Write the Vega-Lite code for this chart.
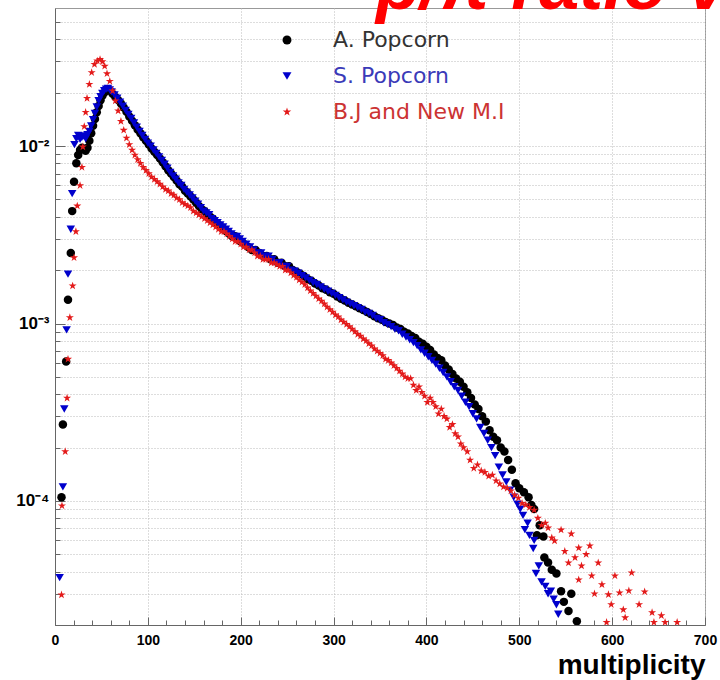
{
 "$schema": "https://vega.github.io/schema/vega-lite/v6.json",
 "width": 650,
 "height": 617,
 "autosize": "none",
 "padding": {"left": 55, "top": 8, "right": 15, "bottom": 55},
 "background": "white",
 "title": {"text": "p/π ratio v", "anchor": "start", "frame": "group", "orient": "top", "offset": -73, "dx": 321, "baseline": "alphabetic", "font": "Liberation Sans", "fontSize": 72, "fontStyle": "italic", "fontWeight": "bold", "color": "#ff0000"},
 "data": {"values": [
{"series":"A. Popcorn","mult":7,"val":0.000105},{"series":"A. Popcorn","mult":8.5,"val":0.00027},{"series":"A. Popcorn","mult":12,"val":0.00061},{"series":"A. Popcorn","mult":14,"val":0.00136},{"series":"A. Popcorn","mult":17,"val":0.0025},{"series":"A. Popcorn","mult":18.5,"val":0.0043},{"series":"A. Popcorn","mult":20.5,"val":0.0063},{"series":"A. Popcorn","mult":23,"val":0.008},{"series":"A. Popcorn","mult":25,"val":0.0089},{"series":"A. Popcorn","mult":27,"val":0.0095},{"series":"A. Popcorn","mult":29,"val":0.0098},{"series":"A. Popcorn","mult":31,"val":0.0096},{"series":"A. Popcorn","mult":33,"val":0.0094},{"series":"A. Popcorn","mult":35,"val":0.0098},{"series":"A. Popcorn","mult":37,"val":0.0107},{"series":"A. Popcorn","mult":39,"val":0.0118},{"series":"A. Popcorn","mult":41,"val":0.013},{"series":"A. Popcorn","mult":43,"val":0.0142},{"series":"A. Popcorn","mult":45,"val":0.0155},{"series":"A. Popcorn","mult":47,"val":0.0168},{"series":"A. Popcorn","mult":49,"val":0.0181},{"series":"A. Popcorn","mult":51,"val":0.0192},{"series":"A. Popcorn","mult":53,"val":0.02},{"series":"A. Popcorn","mult":55,"val":0.0206},{"series":"A. Popcorn","mult":57,"val":0.0209},{"series":"A. Popcorn","mult":59,"val":0.0205},{"series":"A. Popcorn","mult":62,"val":0.0197},{"series":"A. Popcorn","mult":65,"val":0.0189},{"series":"A. Popcorn","mult":68,"val":0.0182},{"series":"A. Popcorn","mult":71,"val":0.0174},{"series":"A. Popcorn","mult":74,"val":0.0165},{"series":"A. Popcorn","mult":77,"val":0.0156},{"series":"A. Popcorn","mult":80,"val":0.0147},{"series":"A. Popcorn","mult":83,"val":0.0139},{"series":"A. Popcorn","mult":86,"val":0.0131},{"series":"A. Popcorn","mult":89,"val":0.0124},{"series":"A. Popcorn","mult":92,"val":0.0118},{"series":"A. Popcorn","mult":95,"val":0.0112},{"series":"A. Popcorn","mult":98,"val":0.0107},{"series":"A. Popcorn","mult":101,"val":0.0102},{"series":"A. Popcorn","mult":104,"val":0.0097},{"series":"A. Popcorn","mult":107,"val":0.0093},{"series":"A. Popcorn","mult":110,"val":0.0089},{"series":"A. Popcorn","mult":113,"val":0.0085},{"series":"A. Popcorn","mult":116,"val":0.0081},{"series":"A. Popcorn","mult":119,"val":0.0077},{"series":"A. Popcorn","mult":122,"val":0.0073},{"series":"A. Popcorn","mult":125,"val":0.007},{"series":"A. Popcorn","mult":128,"val":0.0067},{"series":"A. Popcorn","mult":131,"val":0.0064},{"series":"A. Popcorn","mult":134,"val":0.0061},{"series":"A. Popcorn","mult":137,"val":0.0059},{"series":"A. Popcorn","mult":140,"val":0.0056},{"series":"A. Popcorn","mult":143,"val":0.0054},{"series":"A. Popcorn","mult":146,"val":0.0052},{"series":"A. Popcorn","mult":149,"val":0.005},{"series":"A. Popcorn","mult":152,"val":0.0048},{"series":"A. Popcorn","mult":155,"val":0.0046},{"series":"A. Popcorn","mult":158,"val":0.0044},{"series":"A. Popcorn","mult":161,"val":0.0043},{"series":"A. Popcorn","mult":164,"val":0.0041},{"series":"A. Popcorn","mult":167,"val":0.004},{"series":"A. Popcorn","mult":170,"val":0.0039},{"series":"A. Popcorn","mult":173,"val":0.0037},{"series":"A. Popcorn","mult":176,"val":0.0036},{"series":"A. Popcorn","mult":179,"val":0.0035},{"series":"A. Popcorn","mult":182,"val":0.0034},{"series":"A. Popcorn","mult":185,"val":0.0033},{"series":"A. Popcorn","mult":188,"val":0.0032},{"series":"A. Popcorn","mult":191,"val":0.0031},{"series":"A. Popcorn","mult":194,"val":0.0031},{"series":"A. Popcorn","mult":197,"val":0.003},{"series":"A. Popcorn","mult":200,"val":0.0029},{"series":"A. Popcorn","mult":204,"val":0.0028},{"series":"A. Popcorn","mult":208,"val":0.0027},{"series":"A. Popcorn","mult":212,"val":0.0026},{"series":"A. Popcorn","mult":216,"val":0.0026},{"series":"A. Popcorn","mult":220,"val":0.0025},{"series":"A. Popcorn","mult":224,"val":0.0024},{"series":"A. Popcorn","mult":228,"val":0.0024},{"series":"A. Popcorn","mult":232,"val":0.0023},{"series":"A. Popcorn","mult":236,"val":0.0023},{"series":"A. Popcorn","mult":240,"val":0.0022},{"series":"A. Popcorn","mult":244,"val":0.0022},{"series":"A. Popcorn","mult":248,"val":0.0021},{"series":"A. Popcorn","mult":252,"val":0.0021},{"series":"A. Popcorn","mult":256,"val":0.002},{"series":"A. Popcorn","mult":260,"val":0.00196},{"series":"A. Popcorn","mult":264,"val":0.00191},{"series":"A. Popcorn","mult":268,"val":0.00185},{"series":"A. Popcorn","mult":272,"val":0.00178},{"series":"A. Popcorn","mult":276,"val":0.00174},{"series":"A. Popcorn","mult":280,"val":0.00168},{"series":"A. Popcorn","mult":284,"val":0.00164},{"series":"A. Popcorn","mult":288,"val":0.00158},{"series":"A. Popcorn","mult":292,"val":0.00155},{"series":"A. Popcorn","mult":296,"val":0.0015},{"series":"A. Popcorn","mult":300,"val":0.00147},{"series":"A. Popcorn","mult":304,"val":0.00142},{"series":"A. Popcorn","mult":308,"val":0.00138},{"series":"A. Popcorn","mult":312,"val":0.00135},{"series":"A. Popcorn","mult":316,"val":0.00131},{"series":"A. Popcorn","mult":320,"val":0.00128},{"series":"A. Popcorn","mult":324,"val":0.00125},{"series":"A. Popcorn","mult":328,"val":0.00122},{"series":"A. Popcorn","mult":332,"val":0.00119},{"series":"A. Popcorn","mult":336,"val":0.00116},{"series":"A. Popcorn","mult":340,"val":0.00113},{"series":"A. Popcorn","mult":344,"val":0.0011},{"series":"A. Popcorn","mult":348,"val":0.00107},{"series":"A. Popcorn","mult":352,"val":0.00105},{"series":"A. Popcorn","mult":356,"val":0.00102},{"series":"A. Popcorn","mult":360,"val":0.001},{"series":"A. Popcorn","mult":364,"val":0.00098},{"series":"A. Popcorn","mult":368,"val":0.00095},{"series":"A. Popcorn","mult":372,"val":0.00093},{"series":"A. Popcorn","mult":376,"val":0.0009},{"series":"A. Popcorn","mult":380,"val":0.00088},{"series":"A. Popcorn","mult":384,"val":0.00085},{"series":"A. Popcorn","mult":388,"val":0.00083},{"series":"A. Popcorn","mult":392,"val":0.00079},{"series":"A. Popcorn","mult":396,"val":0.00077},{"series":"A. Popcorn","mult":400,"val":0.00074},{"series":"A. Popcorn","mult":404,"val":0.00071},{"series":"A. Popcorn","mult":408,"val":0.00067},{"series":"A. Popcorn","mult":412,"val":0.00064},{"series":"A. Popcorn","mult":416,"val":0.00062},{"series":"A. Popcorn","mult":420,"val":0.00058},{"series":"A. Popcorn","mult":424,"val":0.00055},{"series":"A. Popcorn","mult":428,"val":0.00052},{"series":"A. Popcorn","mult":432,"val":0.00049},{"series":"A. Popcorn","mult":436,"val":0.00047},{"series":"A. Popcorn","mult":440,"val":0.00044},{"series":"A. Popcorn","mult":444,"val":0.00041},{"series":"A. Popcorn","mult":448,"val":0.00038},{"series":"A. Popcorn","mult":452,"val":0.00035},{"series":"A. Popcorn","mult":456,"val":0.00033},{"series":"A. Popcorn","mult":460,"val":0.0003},{"series":"A. Popcorn","mult":464,"val":0.00028},{"series":"A. Popcorn","mult":468,"val":0.00025},{"series":"A. Popcorn","mult":472,"val":0.00023},{"series":"A. Popcorn","mult":476,"val":0.00022},{"series":"A. Popcorn","mult":480,"val":0.0002},{"series":"A. Popcorn","mult":484,"val":0.00019},{"series":"A. Popcorn","mult":488,"val":0.00017},{"series":"A. Popcorn","mult":492,"val":0.00015},{"series":"A. Popcorn","mult":496,"val":0.000126},{"series":"A. Popcorn","mult":500,"val":0.000118},{"series":"A. Popcorn","mult":505,"val":0.000112},{"series":"A. Popcorn","mult":510,"val":0.000105},{"series":"A. Popcorn","mult":513,"val":0.000095},{"series":"A. Popcorn","mult":516,"val":0.00009},{"series":"A. Popcorn","mult":519,"val":0.000064},{"series":"A. Popcorn","mult":522,"val":0.000073},{"series":"A. Popcorn","mult":526,"val":0.000063},{"series":"A. Popcorn","mult":527,"val":0.000048},{"series":"A. Popcorn","mult":531,"val":0.000045},{"series":"A. Popcorn","mult":535,"val":0.000041},{"series":"A. Popcorn","mult":540,"val":0.000039},{"series":"A. Popcorn","mult":545,"val":0.000031},{"series":"A. Popcorn","mult":548,"val":0.000027},{"series":"A. Popcorn","mult":553,"val":0.000024},{"series":"A. Popcorn","mult":556,"val":0.00003},{"series":"A. Popcorn","mult":562,"val":0.000021},
{"series":"S. Popcorn","mult":5,"val":0.000037},{"series":"S. Popcorn","mult":8.5,"val":0.00012},{"series":"S. Popcorn","mult":10,"val":0.00033},{"series":"S. Popcorn","mult":12.5,"val":0.00092},{"series":"S. Popcorn","mult":14,"val":0.0019},{"series":"S. Popcorn","mult":17,"val":0.0034},{"series":"S. Popcorn","mult":18.5,"val":0.0054},{"series":"S. Popcorn","mult":21,"val":0.0102},{"series":"S. Popcorn","mult":23,"val":0.011},{"series":"S. Popcorn","mult":25,"val":0.0115},{"series":"S. Popcorn","mult":27,"val":0.0109},{"series":"S. Popcorn","mult":29,"val":0.0112},{"series":"S. Popcorn","mult":31,"val":0.0114},{"series":"S. Popcorn","mult":33,"val":0.011},{"series":"S. Popcorn","mult":35,"val":0.0116},{"series":"S. Popcorn","mult":37,"val":0.0121},{"series":"S. Popcorn","mult":39,"val":0.013},{"series":"S. Popcorn","mult":41,"val":0.0141},{"series":"S. Popcorn","mult":43,"val":0.0153},{"series":"S. Popcorn","mult":45,"val":0.0166},{"series":"S. Popcorn","mult":47,"val":0.018},{"series":"S. Popcorn","mult":49,"val":0.019},{"series":"S. Popcorn","mult":51,"val":0.0198},{"series":"S. Popcorn","mult":53,"val":0.0205},{"series":"S. Popcorn","mult":55,"val":0.0209},{"series":"S. Popcorn","mult":57,"val":0.0211},{"series":"S. Popcorn","mult":59,"val":0.0207},{"series":"S. Popcorn","mult":61,"val":0.0202},{"series":"S. Popcorn","mult":64,"val":0.0194},{"series":"S. Popcorn","mult":67,"val":0.0186},{"series":"S. Popcorn","mult":70,"val":0.0177},{"series":"S. Popcorn","mult":73,"val":0.0168},{"series":"S. Popcorn","mult":76,"val":0.0159},{"series":"S. Popcorn","mult":79,"val":0.0151},{"series":"S. Popcorn","mult":82,"val":0.0143},{"series":"S. Popcorn","mult":85,"val":0.0135},{"series":"S. Popcorn","mult":88,"val":0.0128},{"series":"S. Popcorn","mult":91,"val":0.0121},{"series":"S. Popcorn","mult":94,"val":0.0115},{"series":"S. Popcorn","mult":97,"val":0.0109},{"series":"S. Popcorn","mult":100,"val":0.0104},{"series":"S. Popcorn","mult":103,"val":0.01},{"series":"S. Popcorn","mult":106,"val":0.0095},{"series":"S. Popcorn","mult":109,"val":0.0091},{"series":"S. Popcorn","mult":112,"val":0.0087},{"series":"S. Popcorn","mult":115,"val":0.0083},{"series":"S. Popcorn","mult":118,"val":0.0079},{"series":"S. Popcorn","mult":121,"val":0.0075},{"series":"S. Popcorn","mult":124,"val":0.0071},{"series":"S. Popcorn","mult":127,"val":0.0068},{"series":"S. Popcorn","mult":130,"val":0.0065},{"series":"S. Popcorn","mult":133,"val":0.0062},{"series":"S. Popcorn","mult":136,"val":0.006},{"series":"S. Popcorn","mult":139,"val":0.0057},{"series":"S. Popcorn","mult":142,"val":0.0055},{"series":"S. Popcorn","mult":145,"val":0.0053},{"series":"S. Popcorn","mult":148,"val":0.0051},{"series":"S. Popcorn","mult":151,"val":0.0049},{"series":"S. Popcorn","mult":154,"val":0.0047},{"series":"S. Popcorn","mult":157,"val":0.0045},{"series":"S. Popcorn","mult":160,"val":0.0043},{"series":"S. Popcorn","mult":163,"val":0.0042},{"series":"S. Popcorn","mult":166,"val":0.0041},{"series":"S. Popcorn","mult":169,"val":0.0039},{"series":"S. Popcorn","mult":172,"val":0.0038},{"series":"S. Popcorn","mult":175,"val":0.0037},{"series":"S. Popcorn","mult":178,"val":0.0036},{"series":"S. Popcorn","mult":181,"val":0.0035},{"series":"S. Popcorn","mult":184,"val":0.0034},{"series":"S. Popcorn","mult":187,"val":0.0033},{"series":"S. Popcorn","mult":190,"val":0.0032},{"series":"S. Popcorn","mult":193,"val":0.0031},{"series":"S. Popcorn","mult":196,"val":0.0031},{"series":"S. Popcorn","mult":199,"val":0.003},{"series":"S. Popcorn","mult":202,"val":0.0029},{"series":"S. Popcorn","mult":206,"val":0.0028},{"series":"S. Popcorn","mult":210,"val":0.0027},{"series":"S. Popcorn","mult":214,"val":0.0026},{"series":"S. Popcorn","mult":218,"val":0.0025},{"series":"S. Popcorn","mult":222,"val":0.0025},{"series":"S. Popcorn","mult":226,"val":0.0024},{"series":"S. Popcorn","mult":230,"val":0.0024},{"series":"S. Popcorn","mult":234,"val":0.0023},{"series":"S. Popcorn","mult":238,"val":0.0022},{"series":"S. Popcorn","mult":242,"val":0.0022},{"series":"S. Popcorn","mult":246,"val":0.0021},{"series":"S. Popcorn","mult":250,"val":0.0021},{"series":"S. Popcorn","mult":254,"val":0.002},{"series":"S. Popcorn","mult":258,"val":0.00197},{"series":"S. Popcorn","mult":262,"val":0.00192},{"series":"S. Popcorn","mult":266,"val":0.00186},{"series":"S. Popcorn","mult":270,"val":0.00181},{"series":"S. Popcorn","mult":274,"val":0.00175},{"series":"S. Popcorn","mult":278,"val":0.0017},{"series":"S. Popcorn","mult":282,"val":0.00166},{"series":"S. Popcorn","mult":286,"val":0.00161},{"series":"S. Popcorn","mult":290,"val":0.00156},{"series":"S. Popcorn","mult":294,"val":0.00152},{"series":"S. Popcorn","mult":298,"val":0.00148},{"series":"S. Popcorn","mult":302,"val":0.00144},{"series":"S. Popcorn","mult":306,"val":0.0014},{"series":"S. Popcorn","mult":310,"val":0.00136},{"series":"S. Popcorn","mult":314,"val":0.00132},{"series":"S. Popcorn","mult":318,"val":0.00129},{"series":"S. Popcorn","mult":322,"val":0.00126},{"series":"S. Popcorn","mult":326,"val":0.00123},{"series":"S. Popcorn","mult":330,"val":0.0012},{"series":"S. Popcorn","mult":334,"val":0.00116},{"series":"S. Popcorn","mult":338,"val":0.00114},{"series":"S. Popcorn","mult":342,"val":0.00111},{"series":"S. Popcorn","mult":346,"val":0.00107},{"series":"S. Popcorn","mult":350,"val":0.00105},{"series":"S. Popcorn","mult":354,"val":0.00101},{"series":"S. Popcorn","mult":358,"val":0.00099},{"series":"S. Popcorn","mult":362,"val":0.00096},{"series":"S. Popcorn","mult":366,"val":0.00093},{"series":"S. Popcorn","mult":370,"val":0.00091},{"series":"S. Popcorn","mult":374,"val":0.00087},{"series":"S. Popcorn","mult":378,"val":0.00084},{"series":"S. Popcorn","mult":382,"val":0.00081},{"series":"S. Popcorn","mult":386,"val":0.00078},{"series":"S. Popcorn","mult":390,"val":0.00075},{"series":"S. Popcorn","mult":394,"val":0.00071},{"series":"S. Popcorn","mult":398,"val":0.00068},{"series":"S. Popcorn","mult":402,"val":0.00065},{"series":"S. Popcorn","mult":406,"val":0.00062},{"series":"S. Popcorn","mult":410,"val":0.00059},{"series":"S. Popcorn","mult":414,"val":0.00056},{"series":"S. Popcorn","mult":418,"val":0.00053},{"series":"S. Popcorn","mult":422,"val":0.0005},{"series":"S. Popcorn","mult":426,"val":0.00047},{"series":"S. Popcorn","mult":430,"val":0.00044},{"series":"S. Popcorn","mult":434,"val":0.00042},{"series":"S. Popcorn","mult":438,"val":0.00039},{"series":"S. Popcorn","mult":442,"val":0.00036},{"series":"S. Popcorn","mult":446,"val":0.00034},{"series":"S. Popcorn","mult":450,"val":0.00031},{"series":"S. Popcorn","mult":454,"val":0.00029},{"series":"S. Popcorn","mult":458,"val":0.00026},{"series":"S. Popcorn","mult":462,"val":0.00024},{"series":"S. Popcorn","mult":466,"val":0.00022},{"series":"S. Popcorn","mult":470,"val":0.0002},{"series":"S. Popcorn","mult":474,"val":0.00018},{"series":"S. Popcorn","mult":478,"val":0.000155},{"series":"S. Popcorn","mult":482,"val":0.00014},{"series":"S. Popcorn","mult":486,"val":0.000128},{"series":"S. Popcorn","mult":490,"val":0.000115},{"series":"S. Popcorn","mult":494,"val":0.000105},{"series":"S. Popcorn","mult":498,"val":0.000096},{"series":"S. Popcorn","mult":501,"val":0.00009},{"series":"S. Popcorn","mult":504,"val":0.000083},{"series":"S. Popcorn","mult":506,"val":0.000069},{"series":"S. Popcorn","mult":509,"val":0.000075},{"series":"S. Popcorn","mult":511,"val":0.000064},{"series":"S. Popcorn","mult":515,"val":0.000054},{"series":"S. Popcorn","mult":516,"val":0.00006},{"series":"S. Popcorn","mult":518,"val":0.000039},{"series":"S. Popcorn","mult":521,"val":0.000043},{"series":"S. Popcorn","mult":524,"val":0.000035},{"series":"S. Popcorn","mult":528,"val":0.000033},{"series":"S. Popcorn","mult":531,"val":0.00003},{"series":"S. Popcorn","mult":534,"val":0.000031},{"series":"S. Popcorn","mult":537,"val":0.000028},{"series":"S. Popcorn","mult":540,"val":0.000026},{"series":"S. Popcorn","mult":542,"val":0.000023},
{"series":"B.J and New M.I","mult":7,"val":0.0000296},{"series":"B.J and New M.I","mult":7.5,"val":0.000094},{"series":"B.J and New M.I","mult":11,"val":0.00019},{"series":"B.J and New M.I","mult":13,"val":0.00038},{"series":"B.J and New M.I","mult":14,"val":0.00063},{"series":"B.J and New M.I","mult":16,"val":0.00108},{"series":"B.J and New M.I","mult":19,"val":0.00163},{"series":"B.J and New M.I","mult":20.5,"val":0.00235},{"series":"B.J and New M.I","mult":22.5,"val":0.0033},{"series":"B.J and New M.I","mult":24,"val":0.0046},{"series":"B.J and New M.I","mult":27,"val":0.006},{"series":"B.J and New M.I","mult":29,"val":0.0076},{"series":"B.J and New M.I","mult":30,"val":0.0099},{"series":"B.J and New M.I","mult":31.5,"val":0.0129},{"series":"B.J and New M.I","mult":33,"val":0.0155},{"series":"B.J and New M.I","mult":34.5,"val":0.0186},{"series":"B.J and New M.I","mult":37,"val":0.0223},{"series":"B.J and New M.I","mult":39.5,"val":0.026},{"series":"B.J and New M.I","mult":42.5,"val":0.0289},{"series":"B.J and New M.I","mult":45.5,"val":0.0302},{"series":"B.J and New M.I","mult":48.5,"val":0.0308},{"series":"B.J and New M.I","mult":51,"val":0.0299},{"series":"B.J and New M.I","mult":53.5,"val":0.0282},{"series":"B.J and New M.I","mult":56,"val":0.0256},{"series":"B.J and New M.I","mult":59,"val":0.0232},{"series":"B.J and New M.I","mult":62,"val":0.0205},{"series":"B.J and New M.I","mult":65,"val":0.018},{"series":"B.J and New M.I","mult":68,"val":0.0158},{"series":"B.J and New M.I","mult":71,"val":0.0138},{"series":"B.J and New M.I","mult":74,"val":0.0123},{"series":"B.J and New M.I","mult":77,"val":0.0111},{"series":"B.J and New M.I","mult":80,"val":0.0102},{"series":"B.J and New M.I","mult":83,"val":0.0095},{"series":"B.J and New M.I","mult":86,"val":0.0089},{"series":"B.J and New M.I","mult":89,"val":0.0084},{"series":"B.J and New M.I","mult":92,"val":0.008},{"series":"B.J and New M.I","mult":95,"val":0.0076},{"series":"B.J and New M.I","mult":98,"val":0.0073},{"series":"B.J and New M.I","mult":101,"val":0.007},{"series":"B.J and New M.I","mult":104,"val":0.0067},{"series":"B.J and New M.I","mult":107,"val":0.0065},{"series":"B.J and New M.I","mult":110,"val":0.0063},{"series":"B.J and New M.I","mult":113,"val":0.0061},{"series":"B.J and New M.I","mult":116,"val":0.0059},{"series":"B.J and New M.I","mult":119,"val":0.0057},{"series":"B.J and New M.I","mult":122,"val":0.0056},{"series":"B.J and New M.I","mult":125,"val":0.0054},{"series":"B.J and New M.I","mult":128,"val":0.0053},{"series":"B.J and New M.I","mult":131,"val":0.0051},{"series":"B.J and New M.I","mult":134,"val":0.005},{"series":"B.J and New M.I","mult":137,"val":0.0048},{"series":"B.J and New M.I","mult":140,"val":0.0047},{"series":"B.J and New M.I","mult":143,"val":0.0046},{"series":"B.J and New M.I","mult":146,"val":0.0045},{"series":"B.J and New M.I","mult":149,"val":0.0043},{"series":"B.J and New M.I","mult":152,"val":0.0042},{"series":"B.J and New M.I","mult":155,"val":0.0041},{"series":"B.J and New M.I","mult":158,"val":0.004},{"series":"B.J and New M.I","mult":161,"val":0.0039},{"series":"B.J and New M.I","mult":164,"val":0.0038},{"series":"B.J and New M.I","mult":167,"val":0.0037},{"series":"B.J and New M.I","mult":170,"val":0.0036},{"series":"B.J and New M.I","mult":173,"val":0.0035},{"series":"B.J and New M.I","mult":176,"val":0.0034},{"series":"B.J and New M.I","mult":179,"val":0.0033},{"series":"B.J and New M.I","mult":182,"val":0.0033},{"series":"B.J and New M.I","mult":185,"val":0.0032},{"series":"B.J and New M.I","mult":188,"val":0.0031},{"series":"B.J and New M.I","mult":191,"val":0.003},{"series":"B.J and New M.I","mult":194,"val":0.0029},{"series":"B.J and New M.I","mult":197,"val":0.0029},{"series":"B.J and New M.I","mult":200,"val":0.0028},{"series":"B.J and New M.I","mult":203,"val":0.0027},{"series":"B.J and New M.I","mult":206,"val":0.0027},{"series":"B.J and New M.I","mult":209,"val":0.0026},{"series":"B.J and New M.I","mult":212,"val":0.0026},{"series":"B.J and New M.I","mult":215,"val":0.0025},{"series":"B.J and New M.I","mult":218,"val":0.0024},{"series":"B.J and New M.I","mult":221,"val":0.0024},{"series":"B.J and New M.I","mult":224,"val":0.0023},{"series":"B.J and New M.I","mult":227,"val":0.0023},{"series":"B.J and New M.I","mult":230,"val":0.0023},{"series":"B.J and New M.I","mult":233,"val":0.0022},{"series":"B.J and New M.I","mult":236,"val":0.0022},{"series":"B.J and New M.I","mult":239,"val":0.00215},{"series":"B.J and New M.I","mult":242,"val":0.0021},{"series":"B.J and New M.I","mult":245,"val":0.0021},{"series":"B.J and New M.I","mult":248,"val":0.002},{"series":"B.J and New M.I","mult":251,"val":0.002},{"series":"B.J and New M.I","mult":254,"val":0.00193},{"series":"B.J and New M.I","mult":257,"val":0.00187},{"series":"B.J and New M.I","mult":260,"val":0.00182},{"series":"B.J and New M.I","mult":263,"val":0.00176},{"series":"B.J and New M.I","mult":266,"val":0.00171},{"series":"B.J and New M.I","mult":269,"val":0.00166},{"series":"B.J and New M.I","mult":272,"val":0.00159},{"series":"B.J and New M.I","mult":275,"val":0.00153},{"series":"B.J and New M.I","mult":278,"val":0.00148},{"series":"B.J and New M.I","mult":281,"val":0.00143},{"series":"B.J and New M.I","mult":284,"val":0.00138},{"series":"B.J and New M.I","mult":287,"val":0.00134},{"series":"B.J and New M.I","mult":290,"val":0.00129},{"series":"B.J and New M.I","mult":293,"val":0.00124},{"series":"B.J and New M.I","mult":296,"val":0.0012},{"series":"B.J and New M.I","mult":299,"val":0.00116},{"series":"B.J and New M.I","mult":302,"val":0.00112},{"series":"B.J and New M.I","mult":305,"val":0.00109},{"series":"B.J and New M.I","mult":308,"val":0.00105},{"series":"B.J and New M.I","mult":311,"val":0.00102},{"series":"B.J and New M.I","mult":314,"val":0.00099},{"series":"B.J and New M.I","mult":317,"val":0.00096},{"series":"B.J and New M.I","mult":320,"val":0.00093},{"series":"B.J and New M.I","mult":323,"val":0.0009},{"series":"B.J and New M.I","mult":326,"val":0.00087},{"series":"B.J and New M.I","mult":329,"val":0.00085},{"series":"B.J and New M.I","mult":332,"val":0.00082},{"series":"B.J and New M.I","mult":335,"val":0.0008},{"series":"B.J and New M.I","mult":338,"val":0.00077},{"series":"B.J and New M.I","mult":341,"val":0.00075},{"series":"B.J and New M.I","mult":344,"val":0.00072},{"series":"B.J and New M.I","mult":347,"val":0.0007},{"series":"B.J and New M.I","mult":350,"val":0.00068},{"series":"B.J and New M.I","mult":353,"val":0.00066},{"series":"B.J and New M.I","mult":356,"val":0.00063},{"series":"B.J and New M.I","mult":359,"val":0.00062},{"series":"B.J and New M.I","mult":362,"val":0.0006},{"series":"B.J and New M.I","mult":365,"val":0.00058},{"series":"B.J and New M.I","mult":368,"val":0.00056},{"series":"B.J and New M.I","mult":371,"val":0.00054},{"series":"B.J and New M.I","mult":374,"val":0.00052},{"series":"B.J and New M.I","mult":377,"val":0.0005},{"series":"B.J and New M.I","mult":380,"val":0.00049},{"series":"B.J and New M.I","mult":383,"val":0.00049},{"series":"B.J and New M.I","mult":386,"val":0.00045},{"series":"B.J and New M.I","mult":389,"val":0.00042},{"series":"B.J and New M.I","mult":392,"val":0.00044},{"series":"B.J and New M.I","mult":395,"val":0.00041},{"series":"B.J and New M.I","mult":398,"val":0.00039},{"series":"B.J and New M.I","mult":401,"val":0.00036},{"series":"B.J and New M.I","mult":404,"val":0.00038},{"series":"B.J and New M.I","mult":407,"val":0.00036},{"series":"B.J and New M.I","mult":410,"val":0.00034},{"series":"B.J and New M.I","mult":413,"val":0.00031},{"series":"B.J and New M.I","mult":416,"val":0.00033},{"series":"B.J and New M.I","mult":419,"val":0.0003},{"series":"B.J and New M.I","mult":422,"val":0.00029},{"series":"B.J and New M.I","mult":425,"val":0.00026},{"series":"B.J and New M.I","mult":428,"val":0.00027},{"series":"B.J and New M.I","mult":431,"val":0.00024},{"series":"B.J and New M.I","mult":434,"val":0.00023},{"series":"B.J and New M.I","mult":437,"val":0.00021},{"series":"B.J and New M.I","mult":440,"val":0.0002},{"series":"B.J and New M.I","mult":444,"val":0.00019},{"series":"B.J and New M.I","mult":447,"val":0.00017},{"series":"B.J and New M.I","mult":451,"val":0.000153},{"series":"B.J and New M.I","mult":455,"val":0.00016},{"series":"B.J and New M.I","mult":459,"val":0.000148},{"series":"B.J and New M.I","mult":463,"val":0.000145},{"series":"B.J and New M.I","mult":467,"val":0.000138},{"series":"B.J and New M.I","mult":471,"val":0.00014},{"series":"B.J and New M.I","mult":475,"val":0.00013},{"series":"B.J and New M.I","mult":479,"val":0.000125},{"series":"B.J and New M.I","mult":483,"val":0.00012},{"series":"B.J and New M.I","mult":487,"val":0.000118},{"series":"B.J and New M.I","mult":491,"val":0.000114},{"series":"B.J and New M.I","mult":495,"val":0.000108},{"series":"B.J and New M.I","mult":499,"val":0.000104},{"series":"B.J and New M.I","mult":503,"val":0.000097},{"series":"B.J and New M.I","mult":507,"val":0.000095},{"series":"B.J and New M.I","mult":511,"val":0.000092},{"series":"B.J and New M.I","mult":516,"val":0.000089},{"series":"B.J and New M.I","mult":520,"val":0.00008},{"series":"B.J and New M.I","mult":524,"val":0.000073},{"series":"B.J and New M.I","mult":528,"val":0.000075},{"series":"B.J and New M.I","mult":531,"val":0.0000705},{"series":"B.J and New M.I","mult":535,"val":0.000062},{"series":"B.J and New M.I","mult":538,"val":0.0000596},{"series":"B.J and New M.I","mult":545,"val":0.0000687},{"series":"B.J and New M.I","mult":549,"val":0.000052},{"series":"B.J and New M.I","mult":553,"val":0.0000448},{"series":"B.J and New M.I","mult":556,"val":0.0000653},{"series":"B.J and New M.I","mult":560,"val":0.000048},{"series":"B.J and New M.I","mult":564,"val":0.0000544},{"series":"B.J and New M.I","mult":564,"val":0.000036},{"series":"B.J and New M.I","mult":567,"val":0.0000431},{"series":"B.J and New M.I","mult":572,"val":0.00005},{"series":"B.J and New M.I","mult":576,"val":0.0000559},{"series":"B.J and New M.I","mult":578,"val":0.0000379},{"series":"B.J and New M.I","mult":581,"val":0.00003},{"series":"B.J and New M.I","mult":585,"val":0.0000448},{"series":"B.J and New M.I","mult":589,"val":0.0000338},{"series":"B.J and New M.I","mult":594,"val":0.0000207},{"series":"B.J and New M.I","mult":596,"val":0.0000297},{"series":"B.J and New M.I","mult":599,"val":0.0000261},{"series":"B.J and New M.I","mult":603,"val":0.0000379},{"series":"B.J and New M.I","mult":608,"val":0.0000304},{"series":"B.J and New M.I","mult":612,"val":0.0000244},{"series":"B.J and New M.I","mult":614,"val":0.000022},{"series":"B.J and New M.I","mult":618,"val":0.0000312},{"series":"B.J and New M.I","mult":621,"val":0.0000394},{"series":"B.J and New M.I","mult":629,"val":0.0000261},{"series":"B.J and New M.I","mult":635,"val":0.0000308},{"series":"B.J and New M.I","mult":643,"val":0.0000235},{"series":"B.J and New M.I","mult":645,"val":0.0000207},{"series":"B.J and New M.I","mult":653,"val":0.0000226},{"series":"B.J and New M.I","mult":657,"val":0.0000207},{"series":"B.J and New M.I","mult":670,"val":0.0000207}
 ]},
 "mark": {"type": "point", "filled": true, "opacity": 1, "size": 72, "clip": true},
 "encoding": {
  "x": {"field": "mult", "type": "quantitative", "scale": {"domain": [0, 700], "nice": false, "zero": false},
   "axis": {"values": [0,20,40,60,80,100,120,140,160,180,200,220,240,260,280,300,320,340,360,380,400,420,440,460,480,500,520,540,560,580,600,620,640,660,680,700],
    "labelExpr": "datum.value % 100 == 0 ? datum.label : ''", "format": "d", "labelFont": "Liberation Sans", "labelFontWeight": "bold", "labelFontSize": 14, "labelColor": "#000000", "labelFlush": false, "labelOverlap": false, "labelPadding": 16,
    "tickSize": {"condition": {"test": "datum.value % 100 == 0", "value": -8}, "value": -5}, "tickColor": "#666666", "domainColor": "#666666",
    "grid": true, "gridColor": "#bbbbbb", "gridDash": [1, 2], "gridOpacity": {"condition": {"test": "datum.value % 100 == 0", "value": 1}, "value": 0},
    "title": "multiplicity", "titleFont": "Liberation Sans", "titleFontSize": 28, "titleFontWeight": "bold", "titleColor": "#000000", "titleAnchor": "end", "titlePadding": 1}},
  "y": {"field": "val", "type": "quantitative", "scale": {"type": "log", "domain": [0.00002, 0.06], "nice": false},
   "axis": {"values": [0.00002,0.00003,0.00004,0.00005,0.00006,0.00007,0.00008,0.00009,0.0001,0.0002,0.0003,0.0004,0.0005,0.0006,0.0007,0.0008,0.0009,0.001,0.002,0.003,0.004,0.005,0.006,0.007,0.008,0.009,0.01,0.02,0.03,0.04,0.05],
    "labelExpr": "datum.value == 0.01 ? '10⁻²' : datum.value == 0.001 ? '10⁻³' : datum.value == 0.0001 ? '10⁻⁴' : ''", "labelFont": "Liberation Sans", "labelFontWeight": "bold", "labelFontSize": 17, "labelColor": "#000000", "labelOverlap": false, "labelPadding": 16,
    "tickSize": {"condition": {"test": "datum.value == 0.01 || datum.value == 0.001 || datum.value == 0.0001", "value": -10}, "value": -5}, "tickColor": "#666666", "domainColor": "#666666",
    "grid": true, "gridColor": "#bbbbbb", "gridDash": [1, 2], "title": null}},
  "color": {"field": "series", "type": "nominal", "scale": {"domain": ["A. Popcorn", "S. Popcorn", "B.J and New M.I"], "range": ["#000000", "#0000cc", "#e31a1a"]},
   "legend": {"title": null, "orient": "none", "legendX": 221, "legendY": 21, "padding": 0, "symbolSize": 80, "labelOffset": 35, "rowPadding": 14, "labelLimit": 0, "labelFont": "DejaVu Sans", "labelFontSize": 22, "labelColor": {"expr": "datum.value == 'A. Popcorn' ? '#333333' : datum.value == 'S. Popcorn' ? '#3a3ab8' : '#cc3333'"}}},
  "shape": {"field": "series", "type": "nominal", "scale": {"domain": ["A. Popcorn", "S. Popcorn", "B.J and New M.I"], "range": ["circle", "triangle-down", "M0,-1L0.2245,-0.309L0.951,-0.309L0.363,0.118L0.588,0.809L0,0.382L-0.588,0.809L-0.363,0.118L-0.951,-0.309L-0.2245,-0.309Z"]},
   "legend": {"title": null, "orient": "none", "legendX": 221, "legendY": 21, "padding": 0, "symbolSize": 80, "labelOffset": 35, "rowPadding": 14, "labelLimit": 0, "labelFont": "DejaVu Sans", "labelFontSize": 22, "labelColor": {"expr": "datum.value == 'A. Popcorn' ? '#333333' : datum.value == 'S. Popcorn' ? '#3a3ab8' : '#cc3333'"}}}
 },
 "config": {"view": {"stroke": "#999999"}, "font": "Liberation Sans"}
}
